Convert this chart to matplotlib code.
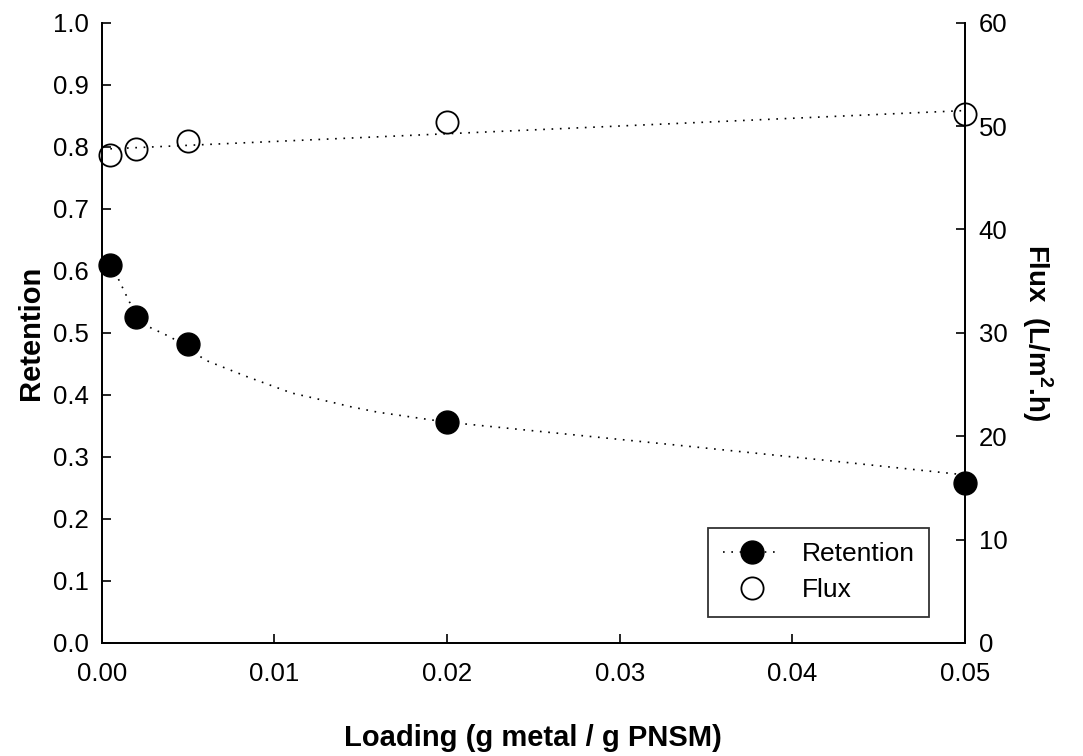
import matplotlib
matplotlib.use("Agg")
import matplotlib.pyplot as plt
from matplotlib.lines import Line2D

plt.rcParams["font.family"] = ["Liberation Sans", "DejaVu Sans"]
plt.rcParams["mathtext.fontset"] = "custom"
plt.rcParams["mathtext.rm"] = "Liberation Sans"
plt.rcParams["mathtext.bf"] = "Liberation Sans:bold"

# ── data ─────────────────────────────────────────────────────────────────────
loading   = [0.0005, 0.002, 0.005, 0.02, 0.05]
retention = [0.610, 0.525, 0.482, 0.356, 0.258]
flux      = [47.2, 47.8, 48.6, 50.4, 51.2]

# dotted trend lines
ret_fit_x = [0.0005, 0.001, 0.0016, 0.0027, 0.004, 0.005, 0.006, 0.0084,
             0.011, 0.0135, 0.0144, 0.016, 0.02, 0.0333, 0.0428, 0.05]
ret_fit_y = [0.610, 0.585, 0.550, 0.510, 0.493, 0.476, 0.456, 0.4295,
             0.403, 0.387, 0.381, 0.372, 0.356, 0.319, 0.292, 0.271]
flux_fit_x = [0.0005, 0.05]
flux_fit_y = [47.8, 51.5]

xticks  = [0.0, 0.01, 0.02, 0.03, 0.04, 0.05]
yticks  = [0.0, 0.1, 0.2, 0.3, 0.4, 0.5, 0.6, 0.7, 0.8, 0.9, 1.0]
y2ticks = [0, 10, 20, 30, 40, 50, 60]

# ── figure ───────────────────────────────────────────────────────────────────
fig = plt.figure(figsize=(10.83, 7.56), dpi=100)
ax = fig.add_axes([0.0939, 0.1495, 0.7971, 0.8205])
ax2 = ax.twinx()

dot = (0, (1, 4))
ax.plot(ret_fit_x, ret_fit_y, color="black", lw=1.2, ls=dot)
ax2.plot(flux_fit_x, flux_fit_y, color="black", lw=1.2, ls=dot)
ax.plot(loading, retention, ls="none", marker="o", ms=16.5, mfc="black",
        mec="black", clip_on=False, zorder=5)
ax2.plot(loading, flux, ls="none", marker="o", ms=16, mfc="none",
         mec="black", mew=1.3, clip_on=False, zorder=5)

ax.set_xlim(0, 0.05)
ax.set_ylim(0, 1.0)
ax2.set_ylim(0, 60)
ax.set_xticks(xticks)
ax.set_xticklabels([f"{v:.2f}" for v in xticks])
ax.set_yticks(yticks)
ax.set_yticklabels([f"{v:.1f}" for v in yticks])
ax2.set_yticks(y2ticks)

for a in (ax, ax2):
    a.spines["top"].set_visible(False)
    for s in a.spines.values():
        s.set_linewidth(1.3)
ax.tick_params(direction="in", length=6.5, width=1.2, labelsize=18.5)
ax.tick_params(axis="y", pad=9)
ax.tick_params(axis="x", pad=14)
ax2.tick_params(direction="in", length=6.5, width=1.2, labelsize=18.5, pad=10)

ax.set_xlabel("Loading (g metal / g PNSM)", fontsize=21, fontweight="bold",
              labelpad=27)
ax.set_ylabel("Retention", fontsize=21, fontweight="bold", labelpad=6)
ax2.set_ylabel(r"Flux  (L/m$^{\mathbf{2}}$.h)", fontsize=20,
               fontweight="bold", rotation=270, labelpad=34)

handles = [
    Line2D([], [], color="black", lw=1.2, ls=dot, marker="o", ms=16.5,
           mfc="black", mec="black"),
    Line2D([], [], ls="none", marker="o", ms=16, mfc="none", mec="black",
           mew=1.3),
]
leg = ax.legend(handles, ["Retention", "Flux"], loc="lower right",
                bbox_to_anchor=(0.9587, 0.0424), borderaxespad=0,
                fontsize=19, frameon=True, fancybox=False, handlelength=2.2,
                borderpad=0.55, labelspacing=0.45, handletextpad=0.8)
leg.get_frame().set_edgecolor("black")
leg.get_frame().set_linewidth(1.3)
leg.set_zorder(10)

fig.savefig("out.png", dpi=100)
